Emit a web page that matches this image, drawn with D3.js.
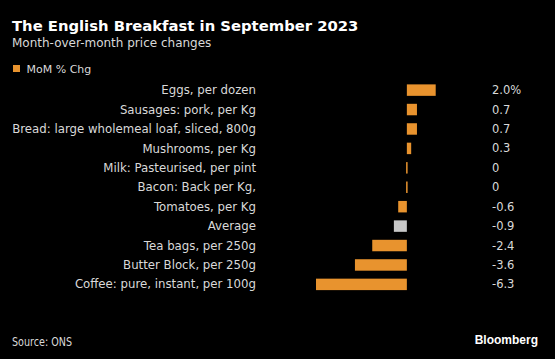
<!DOCTYPE html>
<html><head><meta charset="utf-8">
<script src="https://cdn.jsdelivr.net/npm/d3@7"></script>
<style>body{margin:0;background:#000;} svg{display:block;}</style>
</head><body>
<script>
const categories = ["Eggs, per dozen","Sausages: pork, per Kg","Bread: large wholemeal loaf, sliced, 800g","Mushrooms, per Kg","Milk: Pasteurised, per pint","Bacon: Back per Kg,","Tomatoes, per Kg","Average","Tea bags, per 250g","Butter Block, per 250g","Coffee: pure, instant, per 100g"];
const values = [2.0,0.7,0.7,0.3,0,0,-0.6,-0.9,-2.4,-3.6,-6.3];
const valueLabels = ["2.0%","0.7","0.7","0.3","0","0","-0.6","-0.9","-2.4","-3.6","-6.3"];
const highlight = "Average";

const W=555,H=359;
const svg=d3.select("body").append("svg").attr("width",W).attr("height",H);
svg.append("rect").attr("width",W).attr("height",H).attr("fill","#000");
const font="'DejaVu Sans', sans-serif";
const txt="#d9d9d9";

svg.append("text").attr("x",12).attr("y",31).attr("fill","#fff").attr("font-family",font).attr("font-weight","bold").attr("font-size",14.8).text("The English Breakfast in September 2023");
svg.append("text").attr("x",12).attr("y",47).attr("fill",txt).attr("font-family",font).attr("font-size",12).text("Month-over-month price changes");
svg.append("rect").attr("x",13).attr("y",65).attr("width",7).attr("height",7).attr("fill","#e8932e");
svg.append("text").attr("x",26.5).attr("y",72.5).attr("fill",txt).attr("font-family",font).attr("font-size",11).text("MoM % Chg");

const x=d3.scaleLinear().domain([-6.3,2.0]).range([316,435.7]);
const y=d3.scaleBand().domain(categories).range([80.5,294]).paddingInner(0.41).paddingOuter(0.2);

const g=svg.append("g");
categories.forEach((c,i)=>{
  const v=values[i];
  let x0=x(Math.min(0,v)), w=Math.abs(x(v)-x(0));
  if(w<1.5){w=1.5;x0=x(0)-0.75;}
  g.append("rect").attr("x",x0).attr("y",y(c)).attr("width",w).attr("height",y.bandwidth())
   .attr("fill",c===highlight?"#c8c8c8":"#e8932e");
  const cy=y(c)+y.bandwidth()/2;
  g.append("text").attr("x",256).attr("y",cy).attr("dy","0.35em").attr("text-anchor","end")
   .attr("fill",txt).attr("font-family",font).attr("font-size",11.75).text(c);
  g.append("text").attr("x",492).attr("y",cy).attr("dy","0.35em")
   .attr("fill",txt).attr("font-family",font).attr("font-size",11.5).text(valueLabels[i]);
});

svg.append("text").attr("x",12).attr("y",345.5).attr("fill",txt).attr("font-family",font).attr("font-size",11.5)
  .attr("textLength",60).attr("lengthAdjust","spacingAndGlyphs").text("Source: ONS");
svg.append("text").attr("x",538).attr("y",344).attr("text-anchor","end").attr("fill","#fff").attr("font-family","'Liberation Sans', Arial, sans-serif").attr("font-weight","bold").attr("font-size",12).text("Bloomberg");
</script>
</body></html>
